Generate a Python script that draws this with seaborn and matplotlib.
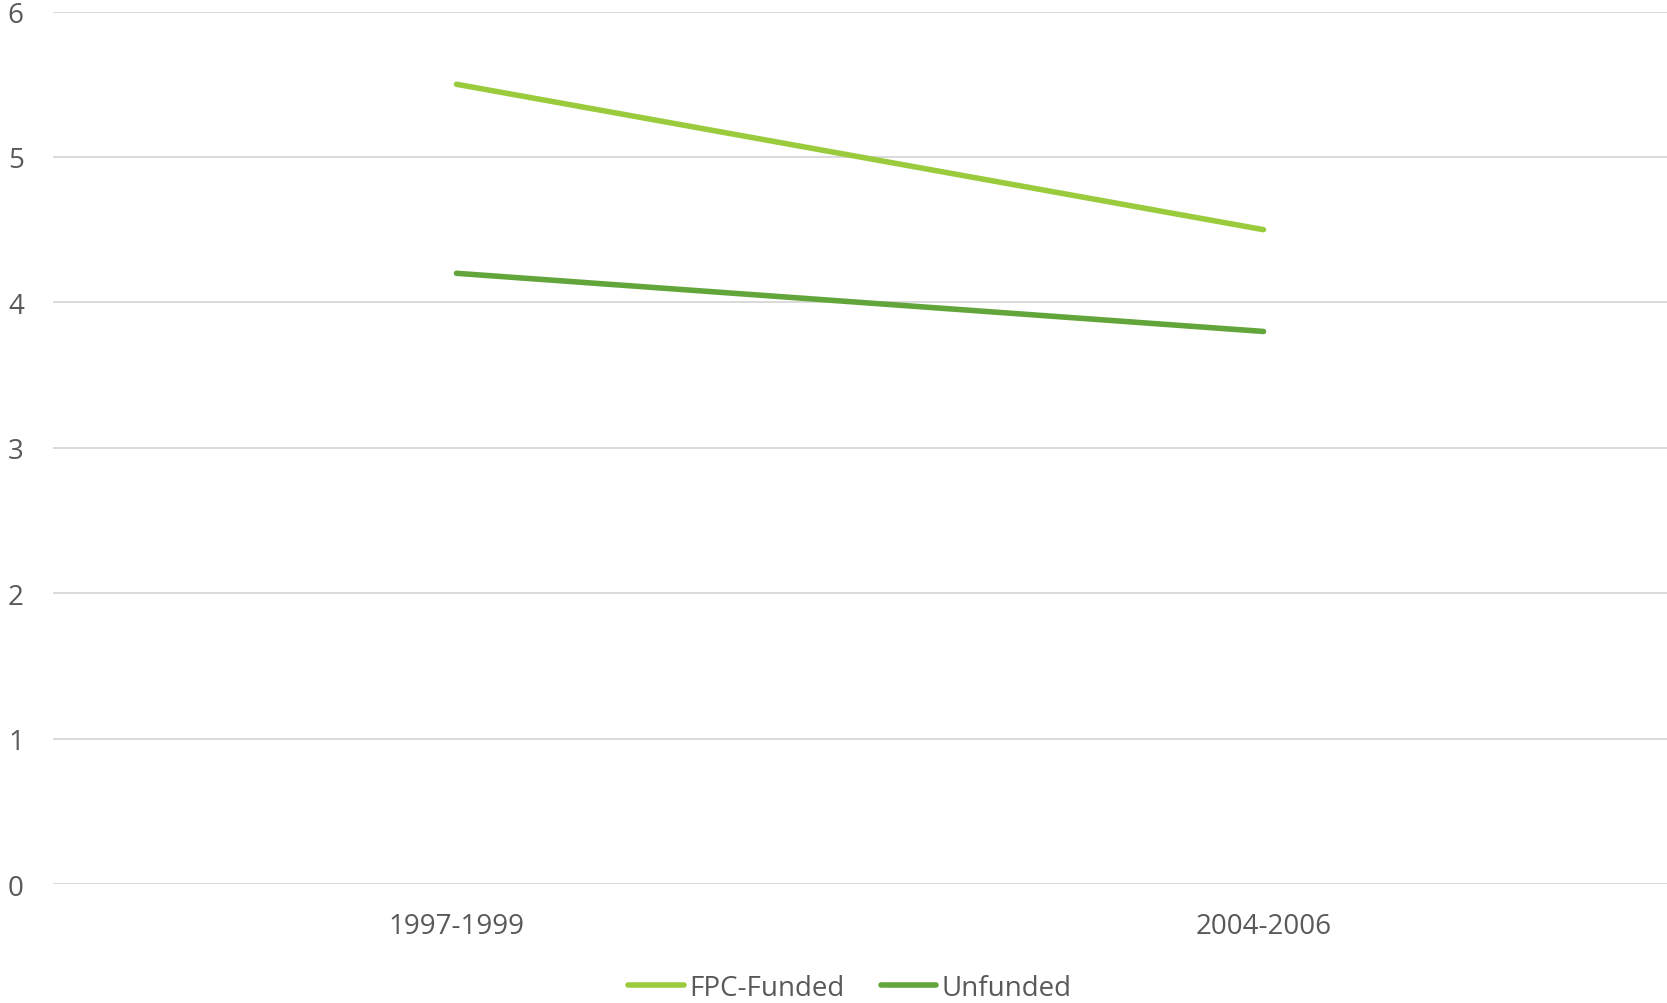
import pandas as pd
import seaborn as sns
import matplotlib.pyplot as plt

# data
periods = ["1997-1999", "2004-2006"]
fpc_funded = [5.5, 4.5]
unfunded = [4.2, 3.8]
series_names = ["FPC-Funded", "Unfunded"]
colors = ["#9ACB3C", "#62A53A"]

df = pd.DataFrame({
    "period": periods * 2,
    "value": fpc_funded + unfunded,
    "series": [series_names[0]] * 2 + [series_names[1]] * 2,
})

sns.set_theme(style="white")
plt.rcParams["font.family"] = ["Open Sans", "DejaVu Sans"]

fig = plt.figure(figsize=(16.67, 10.04), dpi=100)
ax = fig.add_axes([0.0318, 0.1185, 0.9682, 0.869])

sns.lineplot(data=df, x="period", y="value", hue="series", palette=colors,
             linewidth=4.0, ax=ax, legend=False, solid_capstyle="round")

ax.set_xlim(-0.5, 1.5)
ax.set_ylim(0, 6)
ax.set_yticks(range(0, 7))
ax.set_xlabel("")
ax.set_ylabel("")

# gridlines only, no spines
ax.grid(axis="y", color="#D9D9D9", linewidth=1.4)
ax.grid(axis="x", visible=False)
ax.set_axisbelow(True)
for s in ax.spines.values():
    s.set_visible(False)

ax.tick_params(axis="y", length=0, pad=21, labelsize=20, labelcolor="#595959")
ax.tick_params(axis="x", length=0, pad=20, labelsize=20, labelcolor="#595959")

# legend at the bottom
handles = [plt.Line2D([], [], color=c, linewidth=4.0, solid_capstyle="round") for c in colors]
fig.legend(handles, series_names, loc="center", bbox_to_anchor=(0.51, 0.015),
           ncol=2, frameon=False, fontsize=20, labelcolor="#595959",
           handlelength=2.0, handletextpad=0.2, columnspacing=1.3)

plt.savefig("out.png", dpi=100)
